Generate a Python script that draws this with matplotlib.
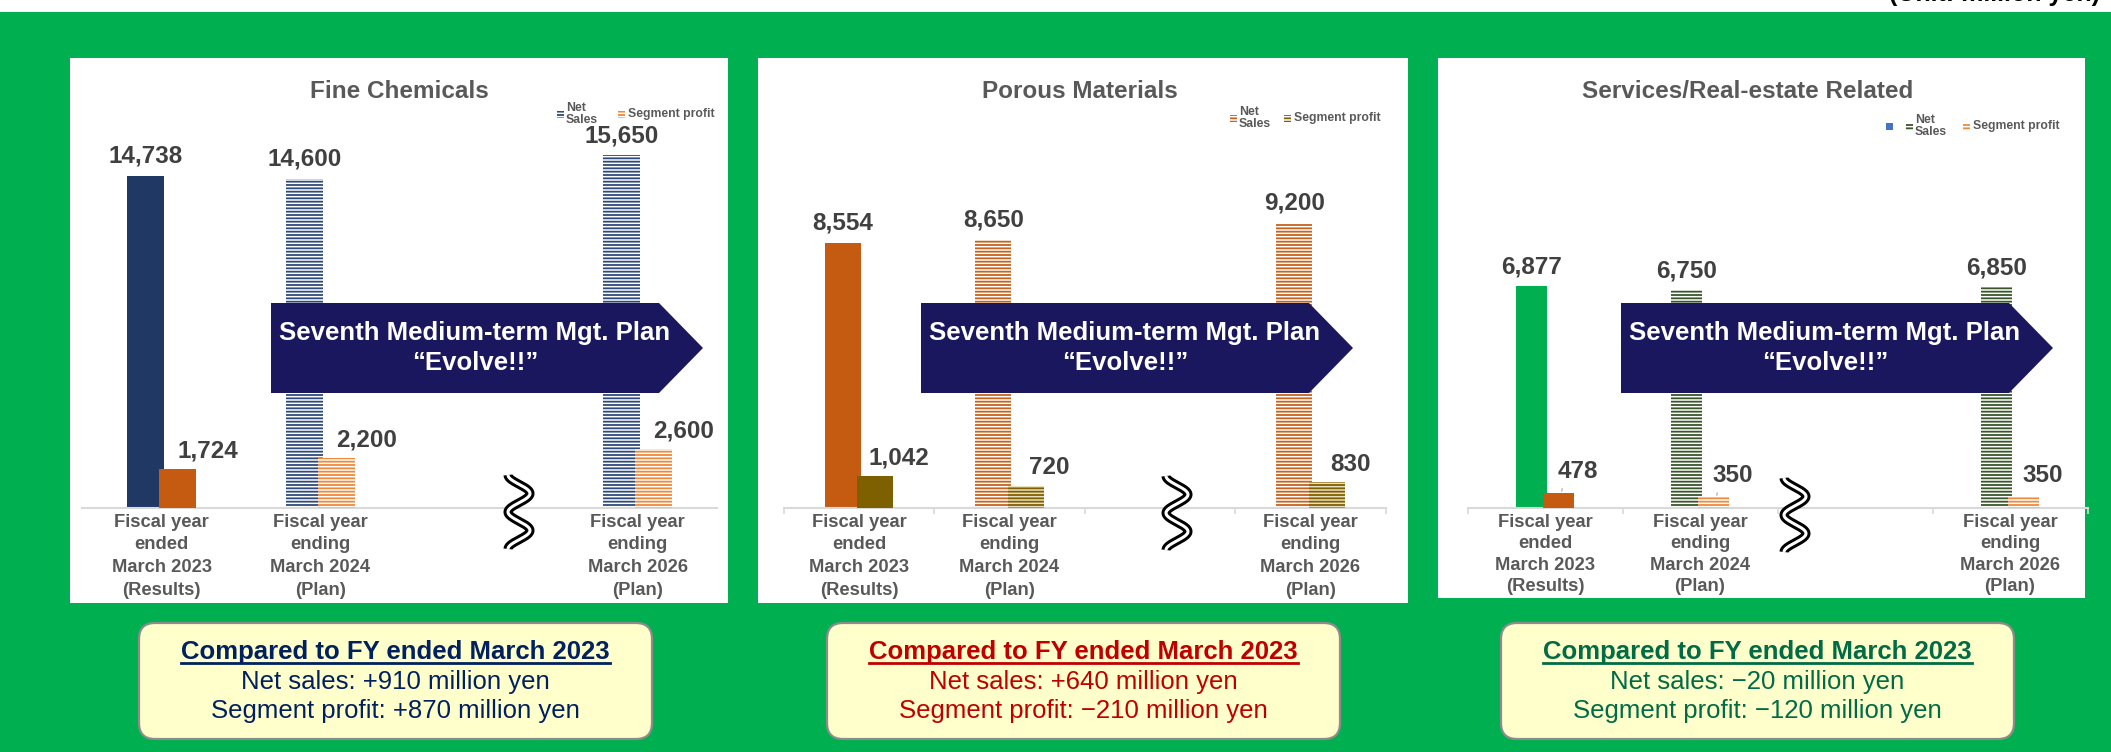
import numpy as np
import matplotlib.pyplot as plt
from matplotlib.patches import Rectangle, FancyBboxPatch, Polygon

plt.rcParams['font.family'] = ['Liberation Sans', 'DejaVu Sans']
plt.rcParams['hatch.linewidth'] = 1.3

W, H = 2111, 752

# x categories; the third slot is the gap before the 2026 plan
periods = ["Fiscal year\nended\nMarch 2023\n(Results)",
           "Fiscal year\nending\nMarch 2024\n(Plan)",
           "",
           "Fiscal year\nending\nMarch 2026\n(Plan)"]
segments = ["Fine Chemicals", "Porous Materials", "Services/Real-estate Related"]

# net sales / segment profit (million yen)
fine_sales = [14738, 14600, np.nan, 15650]
fine_profit = [1724, 2200, np.nan, 2600]
porous_sales = [8554, 8650, np.nan, 9200]
porous_profit = [1042, 720, np.nan, 830]
service_sales = [6877, 6750, np.nan, 6850]
service_profit = [478, 350, np.nan, 350]

# change against FY ended March 2023
sales_change = [910, 640, -20]
profit_change = [870, -210, -120]

sales_by_seg = [fine_sales, porous_sales, service_sales]
profit_by_seg = [fine_profit, porous_profit, service_profit]

# layout / colours for each segment panel (pixel units)
styles = [
    dict(box=(70, 58, 728, 603), c1=161.5, step=158.7, ymax=18100, w=0.233, off=0.10,
         net=('#203864', '#2E4A7D', 'white'), prof=('#C55A11', '#F0883A', 'white'),
         title_x=399, arrow=(271, 659, 703), squig=(519, 512), plab=(27, 18),
         minor=False, legend=(557, 618, 114), txt='#002060', summary=(139, 652), ls=1.45),
    dict(box=(758, 58, 1408, 603), c1=859, step=150.5, ymax=13150, w=0.24, off=0.107,
         net=('#C55A11', '#C8621C', 'white'), prof=('#7F6000', '#7F6000', '#E8E0C0'),
         title_x=1080, arrow=(921, 1309, 1353), squig=(1177, 513), plab=(21, 18),
         minor=True, legend=(1230, 1284, 118), txt='#C00000', summary=(827, 1340), ls=1.45),
    dict(box=(1438, 58, 2085, 598), c1=1545, step=155, ymax=12650, w=0.2, off=0.087,
         net=('#00B050', '#38562A', 'white'), prof=('#C55A11', '#F08A3C', 'white'),
         title_x=1748, arrow=(1621, 2009, 2053), squig=(1795, 515), plab=(16, 21),
         minor=True, legend=(1906, 1963, 126), txt='#006B45', summary=(1501, 2014), ls=1.35),
]

BASE = 508   # baseline of the bar charts
TOP = 100
GREY = '#595959'
HATCH = '-----'

fig = plt.figure(figsize=(W / 100, H / 100), dpi=100)
fig.patch.set_facecolor('#00B050')


def overlay(z):
    a = fig.add_axes([0, 0, 1, 1], zorder=z)
    a.set_xlim(0, W)
    a.set_ylim(H, 0)
    a.axis('off')
    a.patch.set_visible(False)
    return a


bg = overlay(-1)
fg = overlay(5)

# white strip along the top; the unit note runs off the top edge
bg.add_patch(Rectangle((0, 0), W, 12, color='white', lw=0))
bg.text(2100, 1.5, "(Unit: million yen)", ha='right', va='baseline',
        fontsize=18, fontweight='bold', color='black')


def stripe_rect(a, x, y, w, h, color, face='white'):
    a.add_patch(Rectangle((x, y), w, h, facecolor=face, edgecolor=color,
                          hatch=HATCH, lw=0))


def signed(v):
    return f"+{v:,}" if v >= 0 else f"\u2212{abs(v):,}"


renderer = fig.canvas.get_renderer()

for i, st in enumerate(styles):
    x0, y0, x1, y1 = st['box']
    bg.add_patch(Rectangle((x0, y0), x1 - x0, y1 - y0, color='white', lw=0))
    bg.text(st['title_x'], 92, segments[i], ha='center', va='center',
            fontsize=17.5, fontweight='bold', color=GREY)

    # bar chart
    left = st['c1'] - 0.5 * st['step']
    width = 4 * st['step']
    ax = fig.add_axes([left / W, 1 - BASE / H, width / W, (BASE - TOP) / H])
    ax.patch.set_visible(False)
    ax.set_xlim(-0.5, 3.5)
    ax.set_ylim(0, st['ymax'])
    x = np.arange(4)
    sales = np.array(sales_by_seg[i], dtype=float)
    profit = np.array(profit_by_seg[i], dtype=float)

    for vals, pos, (solid, stripe, face), z in [
            (sales, x - st['off'], st['net'], 2),
            (profit, x + st['off'], st['prof'], 3)]:
        bars = ax.bar(pos, vals, st['w'], color=solid, lw=0, zorder=z)
        for k, b in enumerate(bars):
            if k > 0:
                b.set_facecolor(face)
                b.set_edgecolor(stripe)
                b.set_hatch(HATCH)
                b.set_linewidth(0)

    for xi, v in zip(x, sales):
        if np.isnan(v):
            continue
        ax.annotate(f"{int(v):,}", (xi - st['off'], v), xytext=(0, 14),
                    textcoords='offset points', ha='center', va='center',
                    fontsize=17.5, fontweight='bold', color='#404040')
    dx, dy = st['plab']
    for k, (xi, v) in enumerate(zip(x, profit)):
        if np.isnan(v):
            continue
        lead = dict(arrowstyle='-', color='#A6A6A6', lw=0.8, shrinkA=2, shrinkB=1,
                    relpos=(0.15, 0.1)) if (i == 2 and k < 2) else None
        ax.annotate(f"{int(v):,}", (xi + st['off'] + 0.02, v), xytext=(dx * 0.72, dy * 0.72),
                    textcoords='offset points', ha='center', va='center',
                    fontsize=17.5, fontweight='bold', color='#404040', arrowprops=lead)

    ax.set_xticks(x)
    ax.set_xticklabels(periods, fontsize=13.2, fontweight='bold', color=GREY,
                       linespacing=st['ls'])
    ax.tick_params(axis='x', which='major', length=0, pad=4)
    if st['minor']:
        ax.set_xticks(np.arange(-0.5, 4, 1), minor=True)
        ax.tick_params(axis='x', which='minor', length=4, width=1.2, color='#D9D9D9')
    ax.set_yticks([])
    for s in ['left', 'right', 'top']:
        ax.spines[s].set_visible(False)
    ax.spines['bottom'].set_color('#D9D9D9')
    ax.spines['bottom'].set_linewidth(1.5)

    # legend
    m1, m2, ly = st['legend']
    if i == 2:
        bg.add_patch(Rectangle((m1 - 20, ly - 3.5), 7, 7, color='#4472C4', lw=0))
    stripe_rect(bg, m1, ly - 3.5, 7, 7, st['net'][1])
    bg.text(m1 + 9, ly, "Net\nSales", ha='left', va='center', fontsize=8.8,
            fontweight='bold', color=GREY, linespacing=1.1)
    stripe_rect(bg, m2, ly - 3.5, 7, 7, st['prof'][1])
    bg.text(m2 + 10, ly, "Segment profit", ha='left', va='center', fontsize=8.8,
            fontweight='bold', color=GREY)

    # plan arrow across the forecast years
    ax0, body, tip = st['arrow']
    fg.add_patch(Polygon([(ax0, 303), (body, 303), (tip, 348), (body, 393), (ax0, 393)],
                         closed=True, color='#1A175E', lw=0))
    tx = (ax0 + tip) / 2 - 12
    fg.text(tx, 333, "Seventh Medium-term Mgt. Plan", ha='center', va='center',
            fontsize=18.5, fontweight='bold', color='white')
    fg.text(tx, 363, "\u201cEvolve!!\u201d", ha='center', va='center',
            fontsize=18.5, fontweight='bold', color='white')

    # axis break mark
    cx, cy = st['squig']
    u = np.linspace(0, 1, 200)
    sy = cy - 37 + 74 * u
    sx = cx - 11 * np.cos(2 * np.pi * 2 * u)
    fg.plot(sx, sy, color='black', lw=6.5, solid_capstyle='butt')
    fg.plot(sx, sy, color='white', lw=2.2, solid_capstyle='butt')

    # summary box
    bx0, bx1 = st['summary']
    bg.add_patch(FancyBboxPatch((bx0, 623), bx1 - bx0, 116,
                                boxstyle='round,pad=0,rounding_size=16',
                                facecolor='#FFFFCC', edgecolor='#8C8C8C', lw=1.6))
    mid = (bx0 + bx1) / 2
    head = bg.text(mid, 652, "Compared to FY ended March 2023", ha='center', va='center',
                   fontsize=18.5, fontweight='bold', color=st['txt'])
    bb = head.get_window_extent(renderer)
    bg.plot([bb.x0, bb.x1], [663, 663], color=st['txt'], lw=2)
    bg.text(mid, 682, f"Net sales: {signed(sales_change[i])} million yen", ha='center',
            va='center', fontsize=18.5, color=st['txt'])
    bg.text(mid, 711, f"Segment profit: {signed(profit_change[i])} million yen",
            ha='center', va='center', fontsize=18.5, color=st['txt'])

fig.savefig('out.png', dpi=100, facecolor=fig.get_facecolor())
